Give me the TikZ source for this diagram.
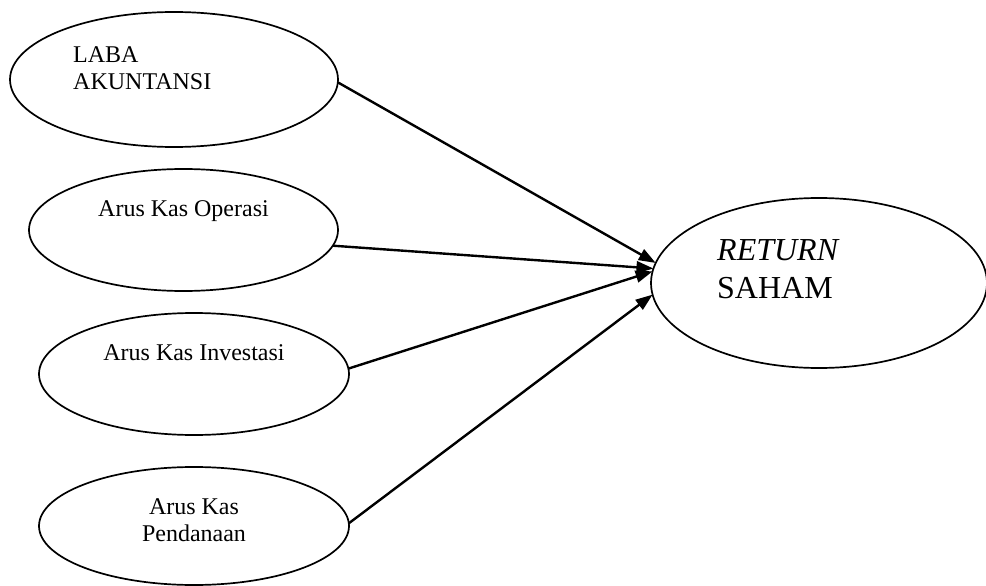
\documentclass[tikz,border=0pt]{standalone}
\usepackage{fontspec}
\setmainfont{Liberation Serif}
\usetikzlibrary{shapes.geometric,arrows.meta}
\begin{document}
\begin{tikzpicture}[x=1pt,y=-1pt,
  oval/.style={draw,ellipse,line width=1.7pt,inner sep=0pt,outer sep=0pt},
  lbl/.style={anchor=base,inner sep=0pt,font=\fontsize{24}{26}\selectfont},
  lblw/.style={anchor=base west,inner sep=0pt,font=\fontsize{24}{26}\selectfont},
  big/.style={anchor=base west,inner sep=0pt,font=\fontsize{32}{36}\selectfont},
  link/.style={line width=2.4pt,-{Triangle[length=17pt,width=12pt]}}]
\useasboundingbox (0,0) rectangle (986,586);
% ellipses
\node[oval,minimum width=328pt,minimum height=135pt] (e1) at (174,79.5) {};
\node[oval,minimum width=309pt,minimum height=122pt] (e2) at (183.5,230) {};
\node[oval,minimum width=310pt,minimum height=122pt] (e3) at (194,374) {};
\node[oval,minimum width=310pt,minimum height=118pt] (e4) at (194,526) {};
\node[oval,minimum width=336pt,minimum height=170pt] (e5) at (819,283) {};
% texts
\node[lblw] (t1a) at (73,63) {LABA};
\node[lblw] (t1b) at (73,89) {AKUNTANSI};
\node[lbl] (t2) at (183.5,216.7) {Arus Kas Operasi};
\node[lbl] (t3) at (194,360.7) {Arus Kas Investasi};
\node[lbl] (t4a) at (194,514) {Arus Kas};
\node[lbl] (t4b) at (194,541.7) {Pendanaan};
\node[big] (t5a) at (717,260.7) {\itshape RETURN};
\node[big] (t5b) at (717,298.3) {SAHAM};
% connectors
\draw[link] (e1.-1) -- (e5.173);
\draw[link] (e2.-6) -- (e5.175);
\draw[link] (e3.2) -- (e5.176);
\draw[link] (e4.1) -- (e5.184);
\end{tikzpicture}
\end{document}
